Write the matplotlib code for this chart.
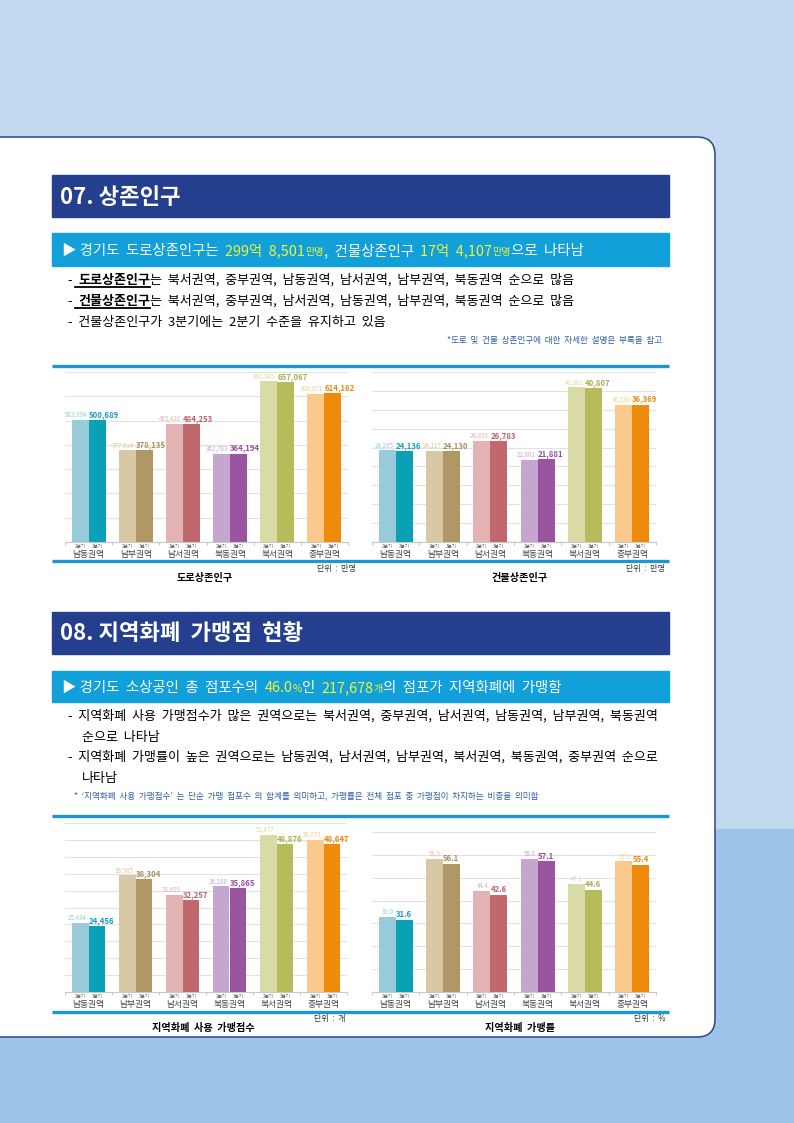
import numpy as np
import matplotlib
matplotlib.use("Agg")
import matplotlib.pyplot as plt
from matplotlib.patches import Rectangle, FancyBboxPatch

plt.rcParams['font.family'] = ['Noto Sans CJK KR', 'DejaVu Sans']

## data
regions = ['남동권역', '남부권역', '남서권역', '북동권역', '북서권역', '중부권역']
road_q2 = [502394, 377814, 485420, 362783, 660945, 610071]
road_q3 = [500689, 378135, 484253, 364194, 657067, 614162]
bldg_q2 = [24295, 24117, 26853, 21801, 40901, 36230]
bldg_q3 = [24136, 24130, 26783, 21881, 40807, 36369]
store_q2 = [25434, 39565, 33695, 36288, 51477, 50073]
store_q3 = [24456, 38304, 32257, 35865, 48876, 48647]
rate_q2 = [33.0, 58.3, 44.4, 58.0, 47.1, 57.1]
rate_q3 = [31.6, 56.1, 42.6, 57.1, 44.6, 55.4]

light = ['#97cbda', '#d8c8a4', '#e3b2b2', '#c6a6cf', '#d9dba7', '#fcc98c']
dark = ['#0aa0b6', '#b09866', '#c1676e', '#9b55a0', '#b8bb5b', '#ee8b0c']
lbl_dark = ['#1c9cc4', '#a98f5c', '#c0606a', '#95509c', '#aab052', '#e98a12']

W, H = 794, 1123
NAVY = '#243f8e'
CYAN = '#11a0d9'
YEL = '#f0f23c'
LINE = '#1f95d2'

fig = plt.figure(figsize=(W / 100, H / 100), dpi=100)
ax0 = fig.add_axes([0, 0, 1, 1])
ax0.set_xlim(0, W)
ax0.set_ylim(H, 0)
ax0.axis('off')

# page background
ax0.add_patch(Rectangle((0, 0), W, 829, color='#c2d9f0', zorder=0))
ax0.add_patch(Rectangle((0, 829), W, H - 829, color='#9dc3e8', zorder=0))
ax0.add_patch(FancyBboxPatch((-40, 137), 755, 900,
                             boxstyle='round,pad=0,rounding_size=18',
                             facecolor='white', edgecolor='#2a4880', lw=1.1, zorder=1))

renderer = fig.canvas.get_renderer()


def advance(s, size, weight):
    t1 = ax0.text(0, 0, s + '|', fontsize=size, fontweight=weight)
    t2 = ax0.text(0, 0, '|', fontsize=size, fontweight=weight)
    w = t1.get_window_extent(renderer).width - t2.get_window_extent(renderer).width
    t1.remove()
    t2.remove()
    return w


def rich(x, y, parts, size, color='black'):
    # parts: (text, color, size_factor, weight, underline)
    for s, c, f, wgt, ul in parts:
        fs = size * f
        ax0.text(x, y, s, fontsize=fs, color=c or color, fontweight=wgt,
                 va='baseline', ha='left', zorder=5)
        w = advance(s, fs, wgt)
        if ul:
            ax0.plot([x - 3, x + w], [y + 2.5, y + 2.5], color='black', lw=1.3, zorder=5)
        x += w
    return x


def header(y0, y1, title):
    ax0.add_patch(Rectangle((52, y0), 617, y1 - y0, color=NAVY, zorder=2))
    ax0.text(60, (y0 + y1) / 2 + 1, title, fontsize=16, fontweight='bold',
             color='white', va='center', ha='left', zorder=5)


def subbar(y0, y1):
    ax0.add_patch(Rectangle((52, y0), 617, y1 - y0, color=CYAN, zorder=2))


## section 07
header(175, 217, '07. 상존인구')
subbar(233, 266)
rich(62, 255, [('▶ 경기도  도로상존인구는  ', 'white', 1, 'normal', False),
               ('299억  8,501', YEL, 1, 'normal', False),
               ('만명', YEL, 0.7, 'normal', False),
               (',  건물상존인구  ', 'white', 1, 'normal', False),
               ('17억  4,107', YEL, 1, 'normal', False),
               ('만명', YEL, 0.7, 'normal', False),
               ('으로  나타남', 'white', 1, 'normal', False)], 10.4)

tail1 = '는  북서권역,  중부권역,  남동권역,  남서권역,  남부권역,  북동권역  순으로  많음'
tail2 = '는  북서권역,  중부권역,  남서권역,  남동권역,  남부권역,  북동권역  순으로  많음'
rich(68, 284, [('-  ', None, 1, 'normal', False), ('도로상존인구', None, 1, 'bold', True),
               (tail1, None, 1, 'normal', False)], 9.4)
rich(68, 305, [('-  ', None, 1, 'normal', False), ('건물상존인구', None, 1, 'bold', True),
               (tail2, None, 1, 'normal', False)], 9.4)
rich(68, 326, [('-  건물상존인구가  3분기에는  2분기  수준을  유지하고  있음', None, 1, 'normal', False)], 9.4)
ax0.text(662, 341, '*도로  및  건물  상존인구에  대한  자세한  설명은  부록을  참고', fontsize=6.2,
         color='#2f5ea8', ha='right', va='center', zorder=5)

## section 08
header(612, 654, '08. 지역화폐  가맹점  현황')
subbar(671, 702)
rich(62, 692, [('▶ 경기도  소상공인  총  점포수의  ', 'white', 1, 'normal', False),
               ('46.0', YEL, 1, 'normal', False),
               ('%', YEL, 0.7, 'normal', False),
               ('인  ', 'white', 1, 'normal', False),
               ('217,678', YEL, 1, 'normal', False),
               ('개', YEL, 0.7, 'normal', False),
               ('의  점포가  지역화폐에  가맹함', 'white', 1, 'normal', False)], 10.4)
rich(68, 720, [('-  지역화폐  사용  가맹점수가  많은  권역으로는  북서권역,  중부권역,  남서권역,  남동권역,  남부권역,  북동권역', None, 1, 'normal', False)], 9.4)
rich(82, 741, [('순으로  나타남', None, 1, 'normal', False)], 9.4)
rich(68, 761, [('-  지역화폐  가맹률이  높은  권역으로는  남동권역,  남서권역,  남부권역,  북서권역,  북동권역,  중부권역  순으로', None, 1, 'normal', False)], 9.4)
rich(82, 782, [('나타남', None, 1, 'normal', False)], 9.4)
ax0.text(74, 796, '*  ‘지역화폐  사용  가맹점수’  는  단순  가맹  점포수  의  합계를  의미하고,  가맹률은  전체  점포  중  가맹점이  차지하는  비중을  의미함',
         fontsize=6.2, color='#2f5ea8', ha='left', va='center', zorder=5)

# frame lines around the chart blocks
for yy in (366, 561, 816, 1012):
    ax0.plot([52, 669], [yy, yy], color=LINE, lw=2.4, solid_capstyle='butt', zorder=3)


def bar_chart(left, right, top, base, q2, q3, lo, hi, step, fmt):
    ax = fig.add_axes([left / W, (H - base) / H, (right - left) / W, (base - top) / H])
    ax.set_facecolor('none')
    x = np.arange(len(regions))
    bw = 0.36
    ax.bar(x - bw / 2, q2, width=bw, color=light, zorder=3)
    ax.bar(x + bw / 2, q3, width=bw, color=dark, zorder=3)
    pad = (hi - lo) * 0.006
    for i in range(len(regions)):
        ax.text(i - 0.04, q2[i] + pad, fmt(q2[i]), fontsize=4.4, color=light[i],
                ha='right', va='bottom', zorder=4)
        ax.text(i + 0.0, q3[i] + pad, fmt(q3[i]), fontsize=5.6, color=lbl_dark[i],
                fontweight='bold', ha='left', va='bottom', zorder=4)
        for dx, q in ((-bw / 2, '2분기'), (bw / 2, '3분기')):
            ax.annotate(q, xy=(i + dx, 0), xycoords=('data', 'axes fraction'),
                        xytext=(0, -4), textcoords='offset pixels',
                        fontsize=3.3, color='#666666', ha='center', va='center')
        ax.annotate(regions[i], xy=(i, 0), xycoords=('data', 'axes fraction'),
                    xytext=(0, -12), textcoords='offset pixels',
                    fontsize=6.3, color='#444444', ha='center', va='center')
    ax.set_xlim(-0.5, len(regions) - 0.5)
    ax.set_ylim(lo, hi)
    ax.set_yticks(np.arange(lo, hi + step / 2, step))
    ax.set_xticks(np.arange(-0.5, len(regions), 1.0))
    ax.tick_params(axis='x', length=2.5, color='#c8c8c8', labelbottom=False)
    ax.tick_params(axis='y', left=False, labelleft=False)
    ax.grid(axis='y', color='#e2e2e2', lw=0.8, zorder=0)
    for sp in ('left', 'right', 'top'):
        ax.spines[sp].set_visible(False)
    ax.spines['bottom'].set_color('#c8c8c8')
    ax.spines['bottom'].set_linewidth(0.8)
    return ax


comma = lambda v: f'{v:,}'
pct = lambda v: f'{v:.1f}'

bar_chart(65, 348, 372, 542, road_q2, road_q3, 0, 700000, 100000, comma)
bar_chart(372, 656, 372, 542, bldg_q2, bldg_q3, 0, 45000, 5000, comma)
bar_chart(65, 347, 823, 992, store_q2, store_q3, 5000, 55000, 5000, comma)
bar_chart(372, 656, 832, 992, rate_q2, rate_q3, 0, 70, 10, pct)

# chart titles and units
for tx, ty, t in ((205, 578, '도로상존인구'), (520, 578, '건물상존인구'),
                  (203, 1028, '지역화폐  사용  가맹점수'), (520, 1028, '지역화폐  가맹률')):
    ax0.text(tx, ty, t, fontsize=7.3, fontweight='bold', ha='center', va='center', zorder=5)
for tx, ty, t in ((356, 568, '단위  :  만명'), (665, 568, '단위  :  만명'),
                  (345, 1019, '단위  :  개'), (666, 1019, '단위  :  %')):
    ax0.text(tx, ty, t, fontsize=5.8, color='#333333', ha='right', va='center', zorder=5)

fig.savefig('out.png', dpi=100)
